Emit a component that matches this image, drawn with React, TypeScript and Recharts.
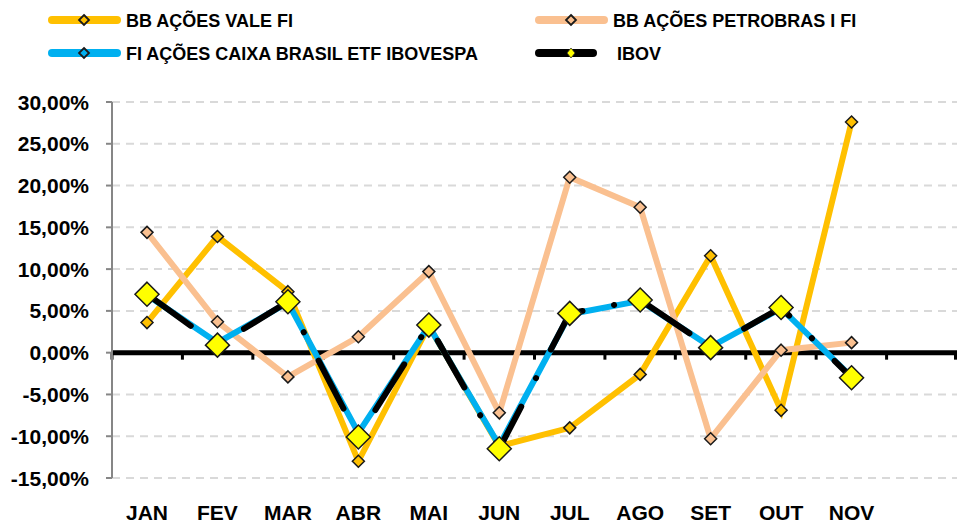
import React from 'react';
import { LineChart, Line, XAxis, YAxis, CartesianGrid, ReferenceLine } from 'recharts';

const months = ['JAN', 'FEV', 'MAR', 'ABR', 'MAI', 'JUN', 'JUL', 'AGO', 'SET', 'OUT', 'NOV', ''];

// monthly returns (%), last slot (DEZ) empty
const valeFi = [3.6, 13.9, 7.3, -13.0, 3.2, -11.2, -9.0, -2.6, 11.6, -6.9, 27.6, null];
const petrobrasFi = [14.4, 3.7, -2.9, 1.9, 9.7, -7.2, 21.0, 17.4, -10.3, 0.3, 1.2, null];
const caixaIbovespa = [6.9, 1.2, 6.0, -9.6, 3.2, -11.1, 4.6, 6.2, 0.7, 5.3, -2.9, null];
const ibov = [7.0, 0.9, 6.1, -10.1, 3.3, -11.5, 4.7, 6.3, 0.6, 5.4, -3.0, null];

const yTicks = [-15, -10, -5, 0, 5, 10, 15, 20, 25, 30];

const series = [
  { key: 'vale', name: 'BB AÇÕES VALE FI', color: '#FFC000', big: false },
  { key: 'petro', name: 'BB AÇÕES PETROBRAS I FI', color: '#FAC090', big: false },
  { key: 'caixa', name: 'FI AÇÕES CAIXA BRASIL ETF IBOVESPA', color: '#00B0F0', big: false },
  { key: 'ibov', name: 'IBOV', color: '#000000', big: true },
];

const data = months.map((m, i) => ({
  month: m,
  vale: valeFi[i],
  petro: petrobrasFi[i],
  caixa: caixaIbovespa[i],
  ibov: ibov[i],
}));

const FONT = '"Liberation Sans", Arial, sans-serif';

const diamond = (fill: string, r: number) => (props: any) => {
  const { cx, cy, index } = props;
  if (cx == null || cy == null || props.value == null) return <g key={index} />;
  return (
    <polygon
      key={index}
      points={`${cx},${cy - r} ${cx + r},${cy} ${cx},${cy + r} ${cx - r},${cy}`}
      fill={fill}
      stroke="#1a1a1a"
      strokeWidth={1.5}
    />
  );
};

const fmt = (v: number) => `${v.toFixed(2).replace('.', ',')}%`;

const YTick = (props: any) => {
  const { x, y, payload } = props;
  return (
    <text x={x - 15} y={y + 7.5} textAnchor="end" fontFamily={FONT} fontWeight="bold" fontSize={21} fill="#000">
      {fmt(payload.value)}
    </text>
  );
};

const XTick = (props: any) => {
  const { x, payload } = props;
  return (
    <text x={x} y={520} textAnchor="middle" fontFamily={FONT} fontWeight="bold" fontSize={21} fill="#000">
      {payload.value}
    </text>
  );
};

// zero line with category boundary ticks
const ZeroLine = (props: any) => {
  const { x1, y1, x2 } = props;
  const n = months.length;
  const step = (x2 - x1) / n;
  const ticks = [];
  for (let i = 0; i <= n; i++) {
    const tx = Math.min(x1 + i * step, x2 - 1.5);
    ticks.push(<line key={i} x1={tx} x2={tx} y1={y1} y2={y1 + 7} stroke="#000" strokeWidth={3} />);
  }
  return (
    <g>
      <line x1={x1} x2={x2} y1={y1} y2={y1} stroke="#000" strokeWidth={5} />
      {ticks}
    </g>
  );
};

function LegendBox() {
  const pos = [
    { x: 48, y: 20 },
    { x: 535, y: 20 },
    { x: 48, y: 53 },
    { x: 535, y: 53 },
  ];
  return (
    <svg width={957} height={75} style={{ position: 'absolute', left: 0, top: 0 }}>
      {series.map((s, i) => {
        const p = pos[i];
        const len = s.big ? 62 : 73;
        const mx = p.x + 36;
        return (
          <g key={s.key}>
            <line x1={p.x + 4} x2={p.x + len - 4} y1={p.y} y2={p.y} stroke={s.color} strokeWidth={8} strokeLinecap="round" />
            {s.big ? (
              <polygon points={`${mx},${p.y - 5} ${mx + 4},${p.y} ${mx},${p.y + 5} ${mx - 4},${p.y}`} fill="#FFFF00" stroke="#333" strokeWidth={0.8} />
            ) : (
              <polygon points={`${mx},${p.y - 5} ${mx + 5},${p.y} ${mx},${p.y + 5} ${mx - 5},${p.y}`} fill={s.color} stroke="#1a1a1a" strokeWidth={1.8} />
            )}
            <text x={p.x + len + (s.big ? 20 : 5)} y={p.y + 6.5} fontFamily={FONT} fontWeight="bold" fontSize={18} fill="#000">
              {s.name}
            </text>
          </g>
        );
      })}
    </svg>
  );
}

export default function App() {
  return (
    <div style={{ position: 'absolute', left: 0, top: 0, width: 957, height: 524, background: '#fff' }}>
      <LegendBox />
      <LineChart width={957} height={524} data={data} margin={{ top: 102, right: 0, left: 0, bottom: 6 }}>
        <CartesianGrid vertical={false} stroke="#D9D9D9" strokeWidth={2} strokeDasharray="8 6" />
        <XAxis
          dataKey="month"
          padding={{ left: 35, right: 35 }}
          axisLine={false}
          tickLine={false}
          interval={0}
          height={40}
          tick={<XTick />}
        />
        <YAxis
          width={112}
          domain={[-15, 30]}
          ticks={yTicks}
          interval={0}
          axisLine={{ stroke: '#868686', strokeWidth: 2 }}
          tickLine={{ stroke: '#868686', strokeWidth: 2 }}
          tickSize={6}
          tick={<YTick />}
        />
        <ReferenceLine y={0} shape={<ZeroLine />} />
        <Line dataKey="vale" stroke="#FFC000" strokeWidth={6} isAnimationActive={false} dot={diamond('#FFC000', 6)} activeDot={false} />
        <Line dataKey="petro" stroke="#FAC090" strokeWidth={6} isAnimationActive={false} dot={diamond('#FAC090', 6)} activeDot={false} />
        <Line dataKey="caixa" stroke="#00B0F0" strokeWidth={6} isAnimationActive={false} dot={diamond('#00B0F0', 6)} activeDot={false} />
        <Line
          dataKey="ibov"
          stroke="#000"
          strokeWidth={6}
          strokeDasharray="54 32 0.1 32"
          strokeLinecap="round"
          isAnimationActive={false}
          dot={diamond('#FFFF00', 12)}
          activeDot={false}
        />
      </LineChart>
    </div>
  );
}
